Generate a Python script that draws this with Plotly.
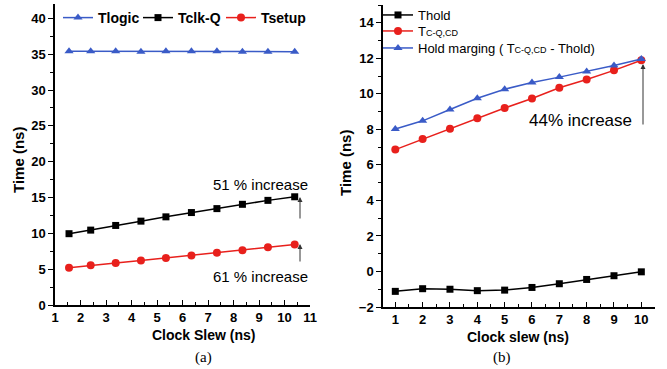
import plotly.graph_objects as go

# ---- Panel (a) data ----
slew_a = [1.55, 2.4, 3.38, 4.37, 5.35, 6.35, 7.35, 8.35, 9.35, 10.4]
tlogic = [35.4, 35.4, 35.4, 35.35, 35.4, 35.4, 35.4, 35.35, 35.35, 35.35]
tclkq = [9.95, 10.45, 11.1, 11.7, 12.3, 12.9, 13.45, 14.05, 14.6, 15.1]
tsetup = [5.2, 5.55, 5.85, 6.2, 6.55, 6.9, 7.3, 7.65, 8.05, 8.45]
xticks_a = [1, 2, 3, 4, 5, 6, 7, 8, 9, 10, 11]
yticks_a = [0, 5, 10, 15, 20, 25, 30, 35, 40]

# ---- Panel (b) data ----
slew_b = [1, 2, 3, 4, 5, 6, 7, 8, 9, 10]
thold = [-1.12, -0.97, -1.0, -1.08, -1.05, -0.9, -0.69, -0.45, -0.24, -0.02]
tcqcd = [6.86, 7.45, 8.04, 8.62, 9.2, 9.74, 10.34, 10.81, 11.32, 11.89]
hold_margin = [8.02, 8.48, 9.12, 9.75, 10.26, 10.64, 10.94, 11.26, 11.6, 11.96]
xticks_b = [1, 2, 3, 4, 5, 6, 7, 8, 9, 10]
yticks_b = [-2, 0, 2, 4, 6, 8, 10, 12, 14]

BLUE = "#3a5bc7"
RED = "#e8201c"
BLACK = "#000000"
FONT = "Liberation Sans"
TICKFONT = "Liberation Sans Narrow, Liberation Sans"

W, H = 667, 369
def px(x):
    return x / W
def py(y):
    return 1 - y / H

fig = go.Figure()

fig.add_trace(go.Scatter(x=slew_a, y=tlogic, name="<b>Tlogic</b>", mode="lines+markers",
                         line=dict(color=BLUE, width=1.5),
                         marker=dict(symbol="triangle-up", size=8, color=BLUE),
                         xaxis="x", yaxis="y", legend="legend"))
fig.add_trace(go.Scatter(x=slew_a, y=tclkq, name="<b>Tclk-Q</b>", mode="lines+markers",
                         line=dict(color=BLACK, width=1.5),
                         marker=dict(symbol="square", size=7, color=BLACK),
                         xaxis="x", yaxis="y", legend="legend5"))
fig.add_trace(go.Scatter(x=slew_a, y=tsetup, name="<b>Tsetup</b>", mode="lines+markers",
                         line=dict(color=RED, width=1.5),
                         marker=dict(symbol="circle", size=8, color=RED),
                         xaxis="x", yaxis="y", legend="legend6"))

fig.add_trace(go.Scatter(x=slew_b, y=thold, name="Thold", mode="lines+markers",
                         line=dict(color=BLACK, width=1.5),
                         marker=dict(symbol="square", size=7, color=BLACK),
                         xaxis="x2", yaxis="y2", legend="legend2"))
fig.add_trace(go.Scatter(x=slew_b, y=tcqcd,
                         name="T<span style='font-size:9px'>C-Q,CD</span>",
                         mode="lines+markers",
                         line=dict(color=RED, width=1.5),
                         marker=dict(symbol="circle", size=8, color=RED),
                         xaxis="x2", yaxis="y2", legend="legend3"))
fig.add_trace(go.Scatter(x=slew_b, y=hold_margin,
                         name="Hold marging ( T<span style='font-size:9px'>C-Q,CD</span> - Thold)",
                         mode="lines+markers",
                         line=dict(color=BLUE, width=1.5),
                         marker=dict(symbol="triangle-up", size=8, color=BLUE),
                         xaxis="x2", yaxis="y2", legend="legend4"))

axis_common = dict(showline=True, linecolor="black", linewidth=1.5, showgrid=False,
                   zeroline=False, mirror=False, automargin=False,
                   tickfont=dict(family=TICKFONT, size=13, color="black", weight="bold"))

def leg(x, yc, size):
    top = max(yc - (size + 1), 0)
    return dict(orientation="v", x=px(x), y=py(top), xanchor="left", yanchor="top",
                bgcolor="rgba(0,0,0,0)", font=dict(family=FONT, size=size, color="black"),
                itemwidth=30, tracegroupgap=0, borderwidth=0)

fig.update_layout(
    width=W, height=H,
    margin=dict(l=0, r=0, t=0, b=0, pad=0),
    paper_bgcolor="white", plot_bgcolor="white",
    font=dict(family=FONT, color="black"),
    xaxis=dict(domain=[px(55), px(310)], range=[1, 11], tickvals=xticks_a,
               ticks="inside", ticklen=5, tickwidth=1.2, tickcolor="black",
               minor=dict(ticks="inside", ticklen=3, dtick=0.5, tick0=1, tickcolor="black"),
               anchor="y", **axis_common),
    yaxis=dict(domain=[py(305), py(4)], range=[0, 42], tickvals=yticks_a,
               ticks="outside", ticklen=5, tickwidth=1.2, tickcolor="black",
               minor=dict(ticks="outside", ticklen=3, dtick=2.5, tick0=0, tickcolor="black"),
               anchor="x", **axis_common),
    xaxis2=dict(domain=[px(383), px(655)], range=[0.55, 10.5], tickvals=xticks_b,
                ticks="inside", ticklen=5, tickwidth=1.2, tickcolor="black",
                minor=dict(ticks="inside", ticklen=3, dtick=0.5, tick0=1, tickcolor="black"),
                anchor="y2", **axis_common),
    yaxis2=dict(domain=[py(307), py(5)], range=[-2, 15], tickvals=yticks_b,
                ticks="outside", ticklen=5, tickwidth=1.2, tickcolor="black",
                minor=dict(ticks="outside", ticklen=3, dtick=1, tick0=0, tickcolor="black"),
                anchor="x2", **axis_common),
    legend=leg(58, 17, 14),
    legend5=leg(138, 17, 14),
    legend6=leg(221, 17, 14),
    legend2=leg(378, 14, 13),
    legend3=leg(378, 30, 13),
    legend4=leg(378, 47, 13),
    showlegend=True,
)

def txt(text, x, y, size, family=FONT, angle=0):
    return dict(text=text, x=px(x), y=py(y), xref="paper", yref="paper",
                xanchor="center", yanchor="middle", textangle=angle,
                showarrow=False, font=dict(family=family, size=size, color="black"))

ann = [
    txt("<b>Time (ns)</b>", 18, 160, 15, angle=-90),
    txt("<b>Time (ns)</b>", 345, 163, 15, angle=-90),
    txt("<b>Clock Slew (ns)</b>", 203, 335, 14),
    txt("<b>Clock slew (ns)</b>", 518, 337, 14),
    txt("(a)", 203, 357, 15, family="Liberation Serif"),
    txt("(b)", 502, 357, 15, family="Liberation Serif"),
    txt("51 % increase", 260, 184, 15),
    txt("61 % increase", 260, 276, 15),
    txt("44% increase", 580, 120, 17),
]
# arrows
for (x, y0, y1) in [(300, 220, 197), (300, 263, 244), (643, 126, 64)]:
    ann.append(dict(x=px(x), y=py(y1), ax=0, ay=(y0 - y1), xref="paper", yref="paper",
                    axref="pixel", ayref="pixel", text="", showarrow=True,
                    arrowhead=2, arrowsize=1, arrowwidth=1, arrowcolor="#333"))
fig.update_layout(annotations=ann)

fig.write_html("out.html", config={"displayModeBar": False},
               post_script="document.body.style.margin='0';")
